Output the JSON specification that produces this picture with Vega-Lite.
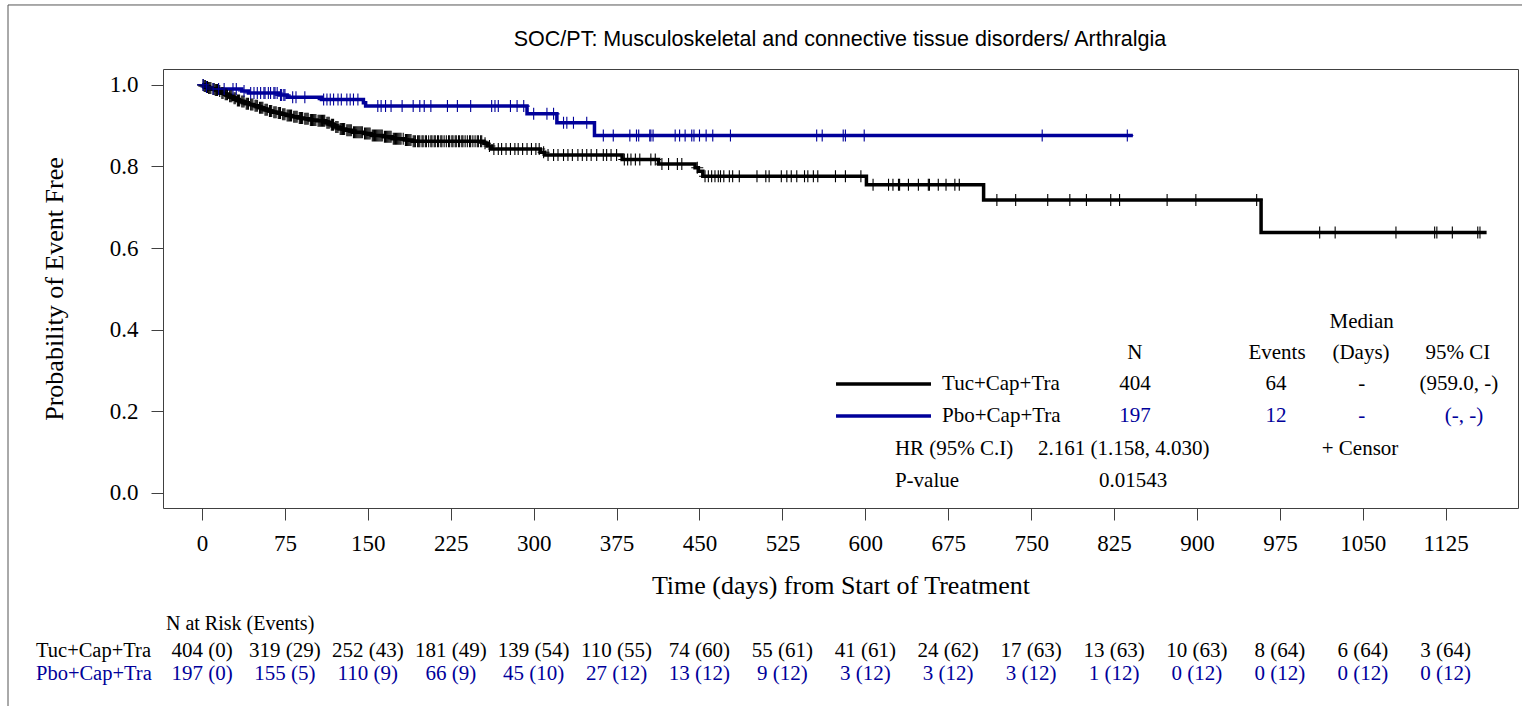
{
"$schema": "https://vega.github.io/schema/vega-lite/v6.json",
"width": 1355,
"height": 439,
"autosize": {"type": "none"},
"padding": {"left": 163, "top": 69, "right": 4, "bottom": 198},
"background": "white",
"config": {
  "view": {"stroke": "#404040", "strokeWidth": 1},
  "text": {"font": "Liberation Serif", "color": "black"},
  "axis": {"labelFont": "Liberation Serif", "titleFont": "Liberation Serif", "labelColor": "black", "titleColor": "black", "titleFontWeight": "normal", "grid": false, "domain": false, "tickColor": "#404040", "tickSize": 12, "labelFontSize": 23, "titleFontSize": 26}
},
"datasets": {
  "curves": [
    {"arm":"Tuc+Cap+Tra","day":0,"surv":1},{"arm":"Tuc+Cap+Tra","day":2,"surv":0.9975},{"arm":"Tuc+Cap+Tra","day":4,"surv":0.995},{"arm":"Tuc+Cap+Tra","day":6,"surv":0.9925},{"arm":"Tuc+Cap+Tra","day":9,"surv":0.99},{"arm":"Tuc+Cap+Tra","day":12,"surv":0.9875},{"arm":"Tuc+Cap+Tra","day":15,"surv":0.985},{"arm":"Tuc+Cap+Tra","day":17,"surv":0.98},{"arm":"Tuc+Cap+Tra","day":20,"surv":0.977},{"arm":"Tuc+Cap+Tra","day":24,"surv":0.972},{"arm":"Tuc+Cap+Tra","day":28,"surv":0.967},{"arm":"Tuc+Cap+Tra","day":31,"surv":0.962},{"arm":"Tuc+Cap+Tra","day":35,"surv":0.959},{"arm":"Tuc+Cap+Tra","day":39,"surv":0.954},{"arm":"Tuc+Cap+Tra","day":43,"surv":0.952},{"arm":"Tuc+Cap+Tra","day":47,"surv":0.949},{"arm":"Tuc+Cap+Tra","day":51,"surv":0.944},{"arm":"Tuc+Cap+Tra","day":56,"surv":0.939},{"arm":"Tuc+Cap+Tra","day":60,"surv":0.936},{"arm":"Tuc+Cap+Tra","day":64,"surv":0.933},{"arm":"Tuc+Cap+Tra","day":68,"surv":0.931},{"arm":"Tuc+Cap+Tra","day":72,"surv":0.928},{"arm":"Tuc+Cap+Tra","day":76,"surv":0.925},{"arm":"Tuc+Cap+Tra","day":82,"surv":0.922},{"arm":"Tuc+Cap+Tra","day":87,"surv":0.919},{"arm":"Tuc+Cap+Tra","day":92,"surv":0.917},{"arm":"Tuc+Cap+Tra","day":97,"surv":0.914},{"arm":"Tuc+Cap+Tra","day":104,"surv":0.912},{"arm":"Tuc+Cap+Tra","day":112,"surv":0.907},{"arm":"Tuc+Cap+Tra","day":116,"surv":0.902},{"arm":"Tuc+Cap+Tra","day":120,"surv":0.897},{"arm":"Tuc+Cap+Tra","day":124,"surv":0.892},{"arm":"Tuc+Cap+Tra","day":130,"surv":0.889},{"arm":"Tuc+Cap+Tra","day":136,"surv":0.884},{"arm":"Tuc+Cap+Tra","day":146,"surv":0.881},{"arm":"Tuc+Cap+Tra","day":153,"surv":0.876},{"arm":"Tuc+Cap+Tra","day":164,"surv":0.873},{"arm":"Tuc+Cap+Tra","day":172,"surv":0.868},{"arm":"Tuc+Cap+Tra","day":183,"surv":0.865},{"arm":"Tuc+Cap+Tra","day":190,"surv":0.862},{"arm":"Tuc+Cap+Tra","day":255,"surv":0.857},{"arm":"Tuc+Cap+Tra","day":258,"surv":0.85},{"arm":"Tuc+Cap+Tra","day":262,"surv":0.843},{"arm":"Tuc+Cap+Tra","day":306,"surv":0.835},{"arm":"Tuc+Cap+Tra","day":310,"surv":0.828},{"arm":"Tuc+Cap+Tra","day":380,"surv":0.817},{"arm":"Tuc+Cap+Tra","day":413,"surv":0.806},{"arm":"Tuc+Cap+Tra","day":446,"surv":0.797},{"arm":"Tuc+Cap+Tra","day":449,"surv":0.788},{"arm":"Tuc+Cap+Tra","day":453,"surv":0.776},{"arm":"Tuc+Cap+Tra","day":601,"surv":0.755},{"arm":"Tuc+Cap+Tra","day":707,"surv":0.718},{"arm":"Tuc+Cap+Tra","day":958,"surv":0.638},{"arm":"Tuc+Cap+Tra","day":1162,"surv":0.638},
    {"arm":"Pbo+Cap+Tra","day":0,"surv":1},{"arm":"Pbo+Cap+Tra","day":2,"surv":0.995},{"arm":"Pbo+Cap+Tra","day":6,"surv":0.99},{"arm":"Pbo+Cap+Tra","day":36,"surv":0.985},{"arm":"Pbo+Cap+Tra","day":42,"surv":0.98},{"arm":"Pbo+Cap+Tra","day":70,"surv":0.975},{"arm":"Pbo+Cap+Tra","day":77,"surv":0.97},{"arm":"Pbo+Cap+Tra","day":108,"surv":0.964},{"arm":"Pbo+Cap+Tra","day":146,"surv":0.956},{"arm":"Pbo+Cap+Tra","day":148,"surv":0.948},{"arm":"Pbo+Cap+Tra","day":294,"surv":0.929},{"arm":"Pbo+Cap+Tra","day":321,"surv":0.907},{"arm":"Pbo+Cap+Tra","day":355,"surv":0.876},{"arm":"Pbo+Cap+Tra","day":842,"surv":0.876}
  ],
  "censors": [
    {"arm":"Tuc+Cap+Tra","day":1,"surv":1},{"arm":"Tuc+Cap+Tra","day":2,"surv":0.9975},{"arm":"Tuc+Cap+Tra","day":3,"surv":0.9975},{"arm":"Tuc+Cap+Tra","day":5,"surv":0.995},{"arm":"Tuc+Cap+Tra","day":6,"surv":0.9925},{"arm":"Tuc+Cap+Tra","day":7,"surv":0.9925},{"arm":"Tuc+Cap+Tra","day":8,"surv":0.9925},{"arm":"Tuc+Cap+Tra","day":10,"surv":0.99},{"arm":"Tuc+Cap+Tra","day":11,"surv":0.99},{"arm":"Tuc+Cap+Tra","day":12,"surv":0.9875},{"arm":"Tuc+Cap+Tra","day":13,"surv":0.9875},{"arm":"Tuc+Cap+Tra","day":14,"surv":0.9875},{"arm":"Tuc+Cap+Tra","day":16,"surv":0.985},{"arm":"Tuc+Cap+Tra","day":18,"surv":0.98},{"arm":"Tuc+Cap+Tra","day":19,"surv":0.98},{"arm":"Tuc+Cap+Tra","day":21,"surv":0.977},{"arm":"Tuc+Cap+Tra","day":22,"surv":0.977},{"arm":"Tuc+Cap+Tra","day":23,"surv":0.977},{"arm":"Tuc+Cap+Tra","day":25,"surv":0.972},{"arm":"Tuc+Cap+Tra","day":26,"surv":0.972},{"arm":"Tuc+Cap+Tra","day":27,"surv":0.972},{"arm":"Tuc+Cap+Tra","day":29,"surv":0.967},{"arm":"Tuc+Cap+Tra","day":30,"surv":0.967},{"arm":"Tuc+Cap+Tra","day":32,"surv":0.962},{"arm":"Tuc+Cap+Tra","day":33,"surv":0.962},{"arm":"Tuc+Cap+Tra","day":34,"surv":0.962},{"arm":"Tuc+Cap+Tra","day":36,"surv":0.959},{"arm":"Tuc+Cap+Tra","day":37,"surv":0.959},{"arm":"Tuc+Cap+Tra","day":38,"surv":0.959},{"arm":"Tuc+Cap+Tra","day":40,"surv":0.954},{"arm":"Tuc+Cap+Tra","day":41,"surv":0.954},{"arm":"Tuc+Cap+Tra","day":42,"surv":0.954},{"arm":"Tuc+Cap+Tra","day":44,"surv":0.952},{"arm":"Tuc+Cap+Tra","day":45,"surv":0.952},{"arm":"Tuc+Cap+Tra","day":46,"surv":0.952},{"arm":"Tuc+Cap+Tra","day":48,"surv":0.949},{"arm":"Tuc+Cap+Tra","day":49,"surv":0.949},{"arm":"Tuc+Cap+Tra","day":50,"surv":0.949},{"arm":"Tuc+Cap+Tra","day":52,"surv":0.944},{"arm":"Tuc+Cap+Tra","day":53,"surv":0.944},{"arm":"Tuc+Cap+Tra","day":54,"surv":0.944},{"arm":"Tuc+Cap+Tra","day":55,"surv":0.944},{"arm":"Tuc+Cap+Tra","day":57,"surv":0.939},{"arm":"Tuc+Cap+Tra","day":58,"surv":0.939},{"arm":"Tuc+Cap+Tra","day":59,"surv":0.939},{"arm":"Tuc+Cap+Tra","day":61,"surv":0.936},{"arm":"Tuc+Cap+Tra","day":62,"surv":0.936},{"arm":"Tuc+Cap+Tra","day":63,"surv":0.936},{"arm":"Tuc+Cap+Tra","day":65,"surv":0.933},{"arm":"Tuc+Cap+Tra","day":66,"surv":0.933},{"arm":"Tuc+Cap+Tra","day":67,"surv":0.933},{"arm":"Tuc+Cap+Tra","day":69,"surv":0.931},{"arm":"Tuc+Cap+Tra","day":70,"surv":0.931},{"arm":"Tuc+Cap+Tra","day":71,"surv":0.931},{"arm":"Tuc+Cap+Tra","day":73,"surv":0.928},{"arm":"Tuc+Cap+Tra","day":74,"surv":0.928},{"arm":"Tuc+Cap+Tra","day":75,"surv":0.928},{"arm":"Tuc+Cap+Tra","day":77,"surv":0.925},{"arm":"Tuc+Cap+Tra","day":78,"surv":0.925},{"arm":"Tuc+Cap+Tra","day":79,"surv":0.925},{"arm":"Tuc+Cap+Tra","day":80,"surv":0.925},{"arm":"Tuc+Cap+Tra","day":81,"surv":0.925},{"arm":"Tuc+Cap+Tra","day":83,"surv":0.922},{"arm":"Tuc+Cap+Tra","day":84,"surv":0.922},{"arm":"Tuc+Cap+Tra","day":85,"surv":0.922},{"arm":"Tuc+Cap+Tra","day":86,"surv":0.922},{"arm":"Tuc+Cap+Tra","day":88,"surv":0.919},{"arm":"Tuc+Cap+Tra","day":89,"surv":0.919},{"arm":"Tuc+Cap+Tra","day":90,"surv":0.919},{"arm":"Tuc+Cap+Tra","day":91,"surv":0.919},{"arm":"Tuc+Cap+Tra","day":93,"surv":0.917},{"arm":"Tuc+Cap+Tra","day":94,"surv":0.917},{"arm":"Tuc+Cap+Tra","day":95,"surv":0.917},{"arm":"Tuc+Cap+Tra","day":96,"surv":0.917},{"arm":"Tuc+Cap+Tra","day":98,"surv":0.914},{"arm":"Tuc+Cap+Tra","day":99,"surv":0.914},{"arm":"Tuc+Cap+Tra","day":100,"surv":0.914},{"arm":"Tuc+Cap+Tra","day":101,"surv":0.914},{"arm":"Tuc+Cap+Tra","day":102,"surv":0.914},{"arm":"Tuc+Cap+Tra","day":103,"surv":0.914},{"arm":"Tuc+Cap+Tra","day":105,"surv":0.912},{"arm":"Tuc+Cap+Tra","day":106,"surv":0.912},{"arm":"Tuc+Cap+Tra","day":107,"surv":0.912},{"arm":"Tuc+Cap+Tra","day":108,"surv":0.912},{"arm":"Tuc+Cap+Tra","day":109,"surv":0.912},{"arm":"Tuc+Cap+Tra","day":110,"surv":0.912},{"arm":"Tuc+Cap+Tra","day":111,"surv":0.912},{"arm":"Tuc+Cap+Tra","day":113,"surv":0.907},{"arm":"Tuc+Cap+Tra","day":114,"surv":0.907},{"arm":"Tuc+Cap+Tra","day":115,"surv":0.907},{"arm":"Tuc+Cap+Tra","day":117,"surv":0.902},{"arm":"Tuc+Cap+Tra","day":118,"surv":0.902},{"arm":"Tuc+Cap+Tra","day":119,"surv":0.902},{"arm":"Tuc+Cap+Tra","day":121,"surv":0.897},{"arm":"Tuc+Cap+Tra","day":122,"surv":0.897},{"arm":"Tuc+Cap+Tra","day":123,"surv":0.897},{"arm":"Tuc+Cap+Tra","day":125,"surv":0.892},{"arm":"Tuc+Cap+Tra","day":126,"surv":0.892},{"arm":"Tuc+Cap+Tra","day":127,"surv":0.892},{"arm":"Tuc+Cap+Tra","day":128,"surv":0.892},{"arm":"Tuc+Cap+Tra","day":129,"surv":0.892},{"arm":"Tuc+Cap+Tra","day":131,"surv":0.889},{"arm":"Tuc+Cap+Tra","day":132,"surv":0.889},{"arm":"Tuc+Cap+Tra","day":133,"surv":0.889},{"arm":"Tuc+Cap+Tra","day":134,"surv":0.889},{"arm":"Tuc+Cap+Tra","day":135,"surv":0.889},{"arm":"Tuc+Cap+Tra","day":137,"surv":0.884},{"arm":"Tuc+Cap+Tra","day":138,"surv":0.884},{"arm":"Tuc+Cap+Tra","day":139,"surv":0.884},{"arm":"Tuc+Cap+Tra","day":140,"surv":0.884},{"arm":"Tuc+Cap+Tra","day":141,"surv":0.884},{"arm":"Tuc+Cap+Tra","day":142,"surv":0.884},{"arm":"Tuc+Cap+Tra","day":143,"surv":0.884},{"arm":"Tuc+Cap+Tra","day":144,"surv":0.884},{"arm":"Tuc+Cap+Tra","day":145,"surv":0.884},{"arm":"Tuc+Cap+Tra","day":147,"surv":0.881},{"arm":"Tuc+Cap+Tra","day":148,"surv":0.881},{"arm":"Tuc+Cap+Tra","day":149,"surv":0.881},{"arm":"Tuc+Cap+Tra","day":150,"surv":0.881},{"arm":"Tuc+Cap+Tra","day":151,"surv":0.881},{"arm":"Tuc+Cap+Tra","day":152,"surv":0.881},{"arm":"Tuc+Cap+Tra","day":154,"surv":0.876},{"arm":"Tuc+Cap+Tra","day":155,"surv":0.876},{"arm":"Tuc+Cap+Tra","day":156,"surv":0.876},{"arm":"Tuc+Cap+Tra","day":157,"surv":0.876},{"arm":"Tuc+Cap+Tra","day":158,"surv":0.876},{"arm":"Tuc+Cap+Tra","day":159,"surv":0.876},{"arm":"Tuc+Cap+Tra","day":160,"surv":0.876},{"arm":"Tuc+Cap+Tra","day":161,"surv":0.876},{"arm":"Tuc+Cap+Tra","day":162,"surv":0.876},{"arm":"Tuc+Cap+Tra","day":163,"surv":0.876},{"arm":"Tuc+Cap+Tra","day":165,"surv":0.873},{"arm":"Tuc+Cap+Tra","day":166,"surv":0.873},{"arm":"Tuc+Cap+Tra","day":167,"surv":0.873},{"arm":"Tuc+Cap+Tra","day":168,"surv":0.873},{"arm":"Tuc+Cap+Tra","day":169,"surv":0.873},{"arm":"Tuc+Cap+Tra","day":170,"surv":0.873},{"arm":"Tuc+Cap+Tra","day":171,"surv":0.873},{"arm":"Tuc+Cap+Tra","day":173,"surv":0.868},{"arm":"Tuc+Cap+Tra","day":174,"surv":0.868},{"arm":"Tuc+Cap+Tra","day":175,"surv":0.868},{"arm":"Tuc+Cap+Tra","day":176,"surv":0.868},{"arm":"Tuc+Cap+Tra","day":177,"surv":0.868},{"arm":"Tuc+Cap+Tra","day":178,"surv":0.868},{"arm":"Tuc+Cap+Tra","day":179,"surv":0.868},{"arm":"Tuc+Cap+Tra","day":180,"surv":0.868},{"arm":"Tuc+Cap+Tra","day":182,"surv":0.868},{"arm":"Tuc+Cap+Tra","day":184,"surv":0.865},{"arm":"Tuc+Cap+Tra","day":185,"surv":0.865},{"arm":"Tuc+Cap+Tra","day":186,"surv":0.865},{"arm":"Tuc+Cap+Tra","day":187,"surv":0.865},{"arm":"Tuc+Cap+Tra","day":188,"surv":0.865},{"arm":"Tuc+Cap+Tra","day":189,"surv":0.865},{"arm":"Tuc+Cap+Tra","day":191,"surv":0.862},{"arm":"Tuc+Cap+Tra","day":192,"surv":0.862},{"arm":"Tuc+Cap+Tra","day":193,"surv":0.862},{"arm":"Tuc+Cap+Tra","day":195,"surv":0.862},{"arm":"Tuc+Cap+Tra","day":196,"surv":0.862},{"arm":"Tuc+Cap+Tra","day":197,"surv":0.862},{"arm":"Tuc+Cap+Tra","day":199,"surv":0.862},{"arm":"Tuc+Cap+Tra","day":200,"surv":0.862},{"arm":"Tuc+Cap+Tra","day":202,"surv":0.862},{"arm":"Tuc+Cap+Tra","day":203,"surv":0.862},{"arm":"Tuc+Cap+Tra","day":205,"surv":0.862},{"arm":"Tuc+Cap+Tra","day":207,"surv":0.862},{"arm":"Tuc+Cap+Tra","day":208,"surv":0.862},{"arm":"Tuc+Cap+Tra","day":210,"surv":0.862},{"arm":"Tuc+Cap+Tra","day":211,"surv":0.862},{"arm":"Tuc+Cap+Tra","day":213,"surv":0.862},{"arm":"Tuc+Cap+Tra","day":214,"surv":0.862},{"arm":"Tuc+Cap+Tra","day":216,"surv":0.862},{"arm":"Tuc+Cap+Tra","day":217,"surv":0.862},{"arm":"Tuc+Cap+Tra","day":219,"surv":0.862},{"arm":"Tuc+Cap+Tra","day":221,"surv":0.862},{"arm":"Tuc+Cap+Tra","day":223,"surv":0.862},{"arm":"Tuc+Cap+Tra","day":224,"surv":0.862},{"arm":"Tuc+Cap+Tra","day":226,"surv":0.862},{"arm":"Tuc+Cap+Tra","day":227,"surv":0.862},{"arm":"Tuc+Cap+Tra","day":229,"surv":0.862},{"arm":"Tuc+Cap+Tra","day":230,"surv":0.862},{"arm":"Tuc+Cap+Tra","day":232,"surv":0.862},{"arm":"Tuc+Cap+Tra","day":233,"surv":0.862},{"arm":"Tuc+Cap+Tra","day":235,"surv":0.862},{"arm":"Tuc+Cap+Tra","day":236,"surv":0.862},{"arm":"Tuc+Cap+Tra","day":238,"surv":0.862},{"arm":"Tuc+Cap+Tra","day":240,"surv":0.862},{"arm":"Tuc+Cap+Tra","day":242,"surv":0.862},{"arm":"Tuc+Cap+Tra","day":243,"surv":0.862},{"arm":"Tuc+Cap+Tra","day":245,"surv":0.862},{"arm":"Tuc+Cap+Tra","day":247,"surv":0.862},{"arm":"Tuc+Cap+Tra","day":249,"surv":0.862},{"arm":"Tuc+Cap+Tra","day":250,"surv":0.862},{"arm":"Tuc+Cap+Tra","day":252,"surv":0.862},{"arm":"Tuc+Cap+Tra","day":253,"surv":0.862},{"arm":"Tuc+Cap+Tra","day":256,"surv":0.857},{"arm":"Tuc+Cap+Tra","day":260,"surv":0.85},{"arm":"Tuc+Cap+Tra","day":264,"surv":0.843},{"arm":"Tuc+Cap+Tra","day":268,"surv":0.843},{"arm":"Tuc+Cap+Tra","day":271,"surv":0.843},{"arm":"Tuc+Cap+Tra","day":275,"surv":0.843},{"arm":"Tuc+Cap+Tra","day":279,"surv":0.843},{"arm":"Tuc+Cap+Tra","day":283,"surv":0.843},{"arm":"Tuc+Cap+Tra","day":286,"surv":0.843},{"arm":"Tuc+Cap+Tra","day":290,"surv":0.843},{"arm":"Tuc+Cap+Tra","day":294,"surv":0.843},{"arm":"Tuc+Cap+Tra","day":298,"surv":0.843},{"arm":"Tuc+Cap+Tra","day":302,"surv":0.843},{"arm":"Tuc+Cap+Tra","day":305,"surv":0.843},{"arm":"Tuc+Cap+Tra","day":309,"surv":0.835},{"arm":"Tuc+Cap+Tra","day":313,"surv":0.828},{"arm":"Tuc+Cap+Tra","day":318,"surv":0.828},{"arm":"Tuc+Cap+Tra","day":322,"surv":0.828},{"arm":"Tuc+Cap+Tra","day":327,"surv":0.828},{"arm":"Tuc+Cap+Tra","day":331,"surv":0.828},{"arm":"Tuc+Cap+Tra","day":335,"surv":0.828},{"arm":"Tuc+Cap+Tra","day":340,"surv":0.828},{"arm":"Tuc+Cap+Tra","day":344,"surv":0.828},{"arm":"Tuc+Cap+Tra","day":348,"surv":0.828},{"arm":"Tuc+Cap+Tra","day":352,"surv":0.828},{"arm":"Tuc+Cap+Tra","day":357,"surv":0.828},{"arm":"Tuc+Cap+Tra","day":363,"surv":0.828},{"arm":"Tuc+Cap+Tra","day":366,"surv":0.828},{"arm":"Tuc+Cap+Tra","day":370,"surv":0.828},{"arm":"Tuc+Cap+Tra","day":375,"surv":0.828},{"arm":"Tuc+Cap+Tra","day":382,"surv":0.817},{"arm":"Tuc+Cap+Tra","day":385,"surv":0.817},{"arm":"Tuc+Cap+Tra","day":388,"surv":0.817},{"arm":"Tuc+Cap+Tra","day":392,"surv":0.817},{"arm":"Tuc+Cap+Tra","day":396,"surv":0.817},{"arm":"Tuc+Cap+Tra","day":406,"surv":0.817},{"arm":"Tuc+Cap+Tra","day":410,"surv":0.817},{"arm":"Tuc+Cap+Tra","day":416,"surv":0.806},{"arm":"Tuc+Cap+Tra","day":422,"surv":0.806},{"arm":"Tuc+Cap+Tra","day":430,"surv":0.806},{"arm":"Tuc+Cap+Tra","day":434,"surv":0.806},{"arm":"Tuc+Cap+Tra","day":448,"surv":0.797},{"arm":"Tuc+Cap+Tra","day":455,"surv":0.776},{"arm":"Tuc+Cap+Tra","day":458,"surv":0.776},{"arm":"Tuc+Cap+Tra","day":461,"surv":0.776},{"arm":"Tuc+Cap+Tra","day":464,"surv":0.776},{"arm":"Tuc+Cap+Tra","day":467,"surv":0.776},{"arm":"Tuc+Cap+Tra","day":469,"surv":0.776},{"arm":"Tuc+Cap+Tra","day":472,"surv":0.776},{"arm":"Tuc+Cap+Tra","day":477,"surv":0.776},{"arm":"Tuc+Cap+Tra","day":480,"surv":0.776},{"arm":"Tuc+Cap+Tra","day":486,"surv":0.776},{"arm":"Tuc+Cap+Tra","day":502,"surv":0.776},{"arm":"Tuc+Cap+Tra","day":510,"surv":0.776},{"arm":"Tuc+Cap+Tra","day":513,"surv":0.776},{"arm":"Tuc+Cap+Tra","day":524,"surv":0.776},{"arm":"Tuc+Cap+Tra","day":529,"surv":0.776},{"arm":"Tuc+Cap+Tra","day":533,"surv":0.776},{"arm":"Tuc+Cap+Tra","day":538,"surv":0.776},{"arm":"Tuc+Cap+Tra","day":545,"surv":0.776},{"arm":"Tuc+Cap+Tra","day":548,"surv":0.776},{"arm":"Tuc+Cap+Tra","day":553,"surv":0.776},{"arm":"Tuc+Cap+Tra","day":557,"surv":0.776},{"arm":"Tuc+Cap+Tra","day":573,"surv":0.776},{"arm":"Tuc+Cap+Tra","day":582,"surv":0.776},{"arm":"Tuc+Cap+Tra","day":596,"surv":0.776},{"arm":"Tuc+Cap+Tra","day":607,"surv":0.755},{"arm":"Tuc+Cap+Tra","day":621,"surv":0.755},{"arm":"Tuc+Cap+Tra","day":625,"surv":0.755},{"arm":"Tuc+Cap+Tra","day":630,"surv":0.755},{"arm":"Tuc+Cap+Tra","day":631,"surv":0.755},{"arm":"Tuc+Cap+Tra","day":639,"surv":0.755},{"arm":"Tuc+Cap+Tra","day":648,"surv":0.755},{"arm":"Tuc+Cap+Tra","day":657,"surv":0.755},{"arm":"Tuc+Cap+Tra","day":658,"surv":0.755},{"arm":"Tuc+Cap+Tra","day":666,"surv":0.755},{"arm":"Tuc+Cap+Tra","day":673,"surv":0.755},{"arm":"Tuc+Cap+Tra","day":681,"surv":0.755},{"arm":"Tuc+Cap+Tra","day":685,"surv":0.755},{"arm":"Tuc+Cap+Tra","day":719,"surv":0.718},{"arm":"Tuc+Cap+Tra","day":736,"surv":0.718},{"arm":"Tuc+Cap+Tra","day":765,"surv":0.718},{"arm":"Tuc+Cap+Tra","day":785,"surv":0.718},{"arm":"Tuc+Cap+Tra","day":800,"surv":0.718},{"arm":"Tuc+Cap+Tra","day":822,"surv":0.718},{"arm":"Tuc+Cap+Tra","day":830,"surv":0.718},{"arm":"Tuc+Cap+Tra","day":873,"surv":0.718},{"arm":"Tuc+Cap+Tra","day":899,"surv":0.718},{"arm":"Tuc+Cap+Tra","day":954,"surv":0.718},{"arm":"Tuc+Cap+Tra","day":1011,"surv":0.638},{"arm":"Tuc+Cap+Tra","day":1025,"surv":0.638},{"arm":"Tuc+Cap+Tra","day":1080,"surv":0.638},{"arm":"Tuc+Cap+Tra","day":1115,"surv":0.638},{"arm":"Tuc+Cap+Tra","day":1117,"surv":0.638},{"arm":"Tuc+Cap+Tra","day":1131,"surv":0.638},{"arm":"Tuc+Cap+Tra","day":1154,"surv":0.638},{"arm":"Tuc+Cap+Tra","day":1156,"surv":0.638},
    {"arm":"Pbo+Cap+Tra","day":1,"surv":1},{"arm":"Pbo+Cap+Tra","day":4,"surv":0.995},{"arm":"Pbo+Cap+Tra","day":10,"surv":0.99},{"arm":"Pbo+Cap+Tra","day":15,"surv":0.99},{"arm":"Pbo+Cap+Tra","day":20,"surv":0.99},{"arm":"Pbo+Cap+Tra","day":28,"surv":0.99},{"arm":"Pbo+Cap+Tra","day":31,"surv":0.99},{"arm":"Pbo+Cap+Tra","day":38,"surv":0.985},{"arm":"Pbo+Cap+Tra","day":44,"surv":0.98},{"arm":"Pbo+Cap+Tra","day":47,"surv":0.98},{"arm":"Pbo+Cap+Tra","day":50,"surv":0.98},{"arm":"Pbo+Cap+Tra","day":53,"surv":0.98},{"arm":"Pbo+Cap+Tra","day":56,"surv":0.98},{"arm":"Pbo+Cap+Tra","day":57,"surv":0.98},{"arm":"Pbo+Cap+Tra","day":60,"surv":0.98},{"arm":"Pbo+Cap+Tra","day":62,"surv":0.98},{"arm":"Pbo+Cap+Tra","day":65,"surv":0.98},{"arm":"Pbo+Cap+Tra","day":66,"surv":0.98},{"arm":"Pbo+Cap+Tra","day":68,"surv":0.98},{"arm":"Pbo+Cap+Tra","day":71,"surv":0.975},{"arm":"Pbo+Cap+Tra","day":72,"surv":0.975},{"arm":"Pbo+Cap+Tra","day":74,"surv":0.975},{"arm":"Pbo+Cap+Tra","day":75,"surv":0.975},{"arm":"Pbo+Cap+Tra","day":82,"surv":0.97},{"arm":"Pbo+Cap+Tra","day":85,"surv":0.97},{"arm":"Pbo+Cap+Tra","day":93,"surv":0.97},{"arm":"Pbo+Cap+Tra","day":110,"surv":0.964},{"arm":"Pbo+Cap+Tra","day":113,"surv":0.964},{"arm":"Pbo+Cap+Tra","day":116,"surv":0.964},{"arm":"Pbo+Cap+Tra","day":119,"surv":0.964},{"arm":"Pbo+Cap+Tra","day":123,"surv":0.964},{"arm":"Pbo+Cap+Tra","day":126,"surv":0.964},{"arm":"Pbo+Cap+Tra","day":131,"surv":0.964},{"arm":"Pbo+Cap+Tra","day":134,"surv":0.964},{"arm":"Pbo+Cap+Tra","day":137,"surv":0.964},{"arm":"Pbo+Cap+Tra","day":141,"surv":0.964},{"arm":"Pbo+Cap+Tra","day":159,"surv":0.948},{"arm":"Pbo+Cap+Tra","day":162,"surv":0.948},{"arm":"Pbo+Cap+Tra","day":166,"surv":0.948},{"arm":"Pbo+Cap+Tra","day":171,"surv":0.948},{"arm":"Pbo+Cap+Tra","day":181,"surv":0.948},{"arm":"Pbo+Cap+Tra","day":191,"surv":0.948},{"arm":"Pbo+Cap+Tra","day":197,"surv":0.948},{"arm":"Pbo+Cap+Tra","day":201,"surv":0.948},{"arm":"Pbo+Cap+Tra","day":207,"surv":0.948},{"arm":"Pbo+Cap+Tra","day":222,"surv":0.948},{"arm":"Pbo+Cap+Tra","day":231,"surv":0.948},{"arm":"Pbo+Cap+Tra","day":243,"surv":0.948},{"arm":"Pbo+Cap+Tra","day":262,"surv":0.948},{"arm":"Pbo+Cap+Tra","day":265,"surv":0.948},{"arm":"Pbo+Cap+Tra","day":268,"surv":0.948},{"arm":"Pbo+Cap+Tra","day":279,"surv":0.948},{"arm":"Pbo+Cap+Tra","day":285,"surv":0.948},{"arm":"Pbo+Cap+Tra","day":291,"surv":0.948},{"arm":"Pbo+Cap+Tra","day":300,"surv":0.929},{"arm":"Pbo+Cap+Tra","day":312,"surv":0.929},{"arm":"Pbo+Cap+Tra","day":318,"surv":0.929},{"arm":"Pbo+Cap+Tra","day":327,"surv":0.907},{"arm":"Pbo+Cap+Tra","day":330,"surv":0.907},{"arm":"Pbo+Cap+Tra","day":336,"surv":0.907},{"arm":"Pbo+Cap+Tra","day":348,"surv":0.907},{"arm":"Pbo+Cap+Tra","day":363,"surv":0.876},{"arm":"Pbo+Cap+Tra","day":372,"surv":0.876},{"arm":"Pbo+Cap+Tra","day":387,"surv":0.876},{"arm":"Pbo+Cap+Tra","day":393,"surv":0.876},{"arm":"Pbo+Cap+Tra","day":395,"surv":0.876},{"arm":"Pbo+Cap+Tra","day":405,"surv":0.876},{"arm":"Pbo+Cap+Tra","day":406,"surv":0.876},{"arm":"Pbo+Cap+Tra","day":408,"surv":0.876},{"arm":"Pbo+Cap+Tra","day":428,"surv":0.876},{"arm":"Pbo+Cap+Tra","day":432,"surv":0.876},{"arm":"Pbo+Cap+Tra","day":437,"surv":0.876},{"arm":"Pbo+Cap+Tra","day":443,"surv":0.876},{"arm":"Pbo+Cap+Tra","day":445,"surv":0.876},{"arm":"Pbo+Cap+Tra","day":450,"surv":0.876},{"arm":"Pbo+Cap+Tra","day":456,"surv":0.876},{"arm":"Pbo+Cap+Tra","day":462,"surv":0.876},{"arm":"Pbo+Cap+Tra","day":478,"surv":0.876},{"arm":"Pbo+Cap+Tra","day":556,"surv":0.876},{"arm":"Pbo+Cap+Tra","day":561,"surv":0.876},{"arm":"Pbo+Cap+Tra","day":580,"surv":0.876},{"arm":"Pbo+Cap+Tra","day":582,"surv":0.876},{"arm":"Pbo+Cap+Tra","day":599,"surv":0.876},{"arm":"Pbo+Cap+Tra","day":760,"surv":0.876},{"arm":"Pbo+Cap+Tra","day":837,"surv":0.876}
  ],
  "risk": [
    {"arm":"Tuc+Cap+Tra","day":0,"label":"404 (0)"},{"arm":"Tuc+Cap+Tra","day":75,"label":"319 (29)"},{"arm":"Tuc+Cap+Tra","day":150,"label":"252 (43)"},{"arm":"Tuc+Cap+Tra","day":225,"label":"181 (49)"},{"arm":"Tuc+Cap+Tra","day":300,"label":"139 (54)"},{"arm":"Tuc+Cap+Tra","day":375,"label":"110 (55)"},{"arm":"Tuc+Cap+Tra","day":450,"label":"74 (60)"},{"arm":"Tuc+Cap+Tra","day":525,"label":"55 (61)"},{"arm":"Tuc+Cap+Tra","day":600,"label":"41 (61)"},{"arm":"Tuc+Cap+Tra","day":675,"label":"24 (62)"},{"arm":"Tuc+Cap+Tra","day":750,"label":"17 (63)"},{"arm":"Tuc+Cap+Tra","day":825,"label":"13 (63)"},{"arm":"Tuc+Cap+Tra","day":900,"label":"10 (63)"},{"arm":"Tuc+Cap+Tra","day":975,"label":"8 (64)"},{"arm":"Tuc+Cap+Tra","day":1050,"label":"6 (64)"},{"arm":"Tuc+Cap+Tra","day":1125,"label":"3 (64)"},
    {"arm":"Pbo+Cap+Tra","day":0,"label":"197 (0)"},{"arm":"Pbo+Cap+Tra","day":75,"label":"155 (5)"},{"arm":"Pbo+Cap+Tra","day":150,"label":"110 (9)"},{"arm":"Pbo+Cap+Tra","day":225,"label":"66 (9)"},{"arm":"Pbo+Cap+Tra","day":300,"label":"45 (10)"},{"arm":"Pbo+Cap+Tra","day":375,"label":"27 (12)"},{"arm":"Pbo+Cap+Tra","day":450,"label":"13 (12)"},{"arm":"Pbo+Cap+Tra","day":525,"label":"9 (12)"},{"arm":"Pbo+Cap+Tra","day":600,"label":"3 (12)"},{"arm":"Pbo+Cap+Tra","day":675,"label":"3 (12)"},{"arm":"Pbo+Cap+Tra","day":750,"label":"3 (12)"},{"arm":"Pbo+Cap+Tra","day":825,"label":"1 (12)"},{"arm":"Pbo+Cap+Tra","day":900,"label":"0 (12)"},{"arm":"Pbo+Cap+Tra","day":975,"label":"0 (12)"},{"arm":"Pbo+Cap+Tra","day":1050,"label":"0 (12)"},{"arm":"Pbo+Cap+Tra","day":1125,"label":"0 (12)"}
  ],
  "summary": [
    {"arm":"Tuc+Cap+Tra","n":404,"events":64,"median":"-","ci":"(959.0, -)"},
    {"arm":"Pbo+Cap+Tra","n":197,"events":12,"median":"-","ci":"(-, -)"}
  ],
  "stats": [{"hr":"2.161 (1.158, 4.030)","p":"0.01543"}]
},
"layer": [
  {"data": {"values": [{}]}, "mark": {"type": "rect", "fill": null, "filled": false, "stroke": "#555555", "strokeWidth": 1},
   "encoding": {"x": {"datum": -175.5, "type": "quantitative"}, "x2": {"datum": 1265}, "y": {"datum": 1.196, "type": "quantitative"}, "y2": {"datum": -0.656}}},
  {"data": {"values": [{}]}, "mark": {"type": "text", "font": "Liberation Sans", "fontSize": 21.5, "align": "center", "baseline": "middle", "text": "SOC/PT: Musculoskeletal and connective tissue disorders/ Arthralgia"},
   "encoding": {"x": {"datum": 577.1, "type": "quantitative"}, "y": {"datum": 1.1104, "type": "quantitative"}}},
  {"data": {"name": "curves"}, "mark": {"type": "line", "interpolate": "step-after", "strokeWidth": 3.5},
   "encoding": {
     "x": {"field": "day", "type": "quantitative", "scale": {"domain": [-35.3, 1190.4], "nice": false, "zero": false},
           "axis": {"values": [0,75,150,225,300,375,450,525,600,675,750,825,900,975,1050,1125], "format": "d", "labelFont": "Liberation Serif", "titleFont": "Liberation Serif", "title": "Time (days) from Start of Treatment", "labelPadding": 12, "titlePadding": 17}},
     "y": {"field": "surv", "type": "quantitative", "scale": {"domain": [-0.0375, 1.039], "nice": false, "zero": false},
           "axis": {"values": [0,0.2,0.4,0.6,0.8,1], "format": ".1f", "labelFont": "Liberation Serif", "titleFont": "Liberation Serif", "title": "Probability of Event Free", "labelPadding": 13, "titlePadding": 42}},
     "color": {"field": "arm", "type": "nominal", "scale": {"domain": ["Tuc+Cap+Tra","Pbo+Cap+Tra"], "range": ["#000000","#00009A"]}, "legend": null},
     "detail": {"field": "arm"}
   }},
  {"data": {"name": "censors"}, "mark": {"type": "point", "shape": "M-1,0L1,0M0,-1L0,1", "filled": false, "size": 144, "strokeWidth": 1.1, "opacity": 1},
   "encoding": {"x": {"field": "day", "type": "quantitative"}, "y": {"field": "surv", "type": "quantitative"}, "color": {"field": "arm", "type": "nominal", "legend": null}}},
  {"data": {"values": [{}]}, "mark": {"type": "text", "fontSize": 21, "align": "center", "baseline": "middle", "text": "Median"},
   "encoding": {"x": {"datum": 1049, "type": "quantitative"}, "y": {"datum": 0.4187, "type": "quantitative"}}},
  {"data": {"values": [{}]}, "mark": {"type": "text", "fontSize": 21, "align": "center", "baseline": "middle", "text": "N"},
   "encoding": {"x": {"datum": 843.9, "type": "quantitative"}, "y": {"datum": 0.3428, "type": "quantitative"}}},
  {"data": {"values": [{}]}, "mark": {"type": "text", "fontSize": 21, "align": "center", "baseline": "middle", "text": "Events"},
   "encoding": {"x": {"datum": 972.4, "type": "quantitative"}, "y": {"datum": 0.3428, "type": "quantitative"}}},
  {"data": {"values": [{}]}, "mark": {"type": "text", "fontSize": 21, "align": "center", "baseline": "middle", "text": "(Days)"},
   "encoding": {"x": {"datum": 1048.4, "type": "quantitative"}, "y": {"datum": 0.3428, "type": "quantitative"}}},
  {"data": {"values": [{}]}, "mark": {"type": "text", "fontSize": 21, "align": "center", "baseline": "middle", "text": "95% CI"},
   "encoding": {"x": {"datum": 1136.1, "type": "quantitative"}, "y": {"datum": 0.3428, "type": "quantitative"}}},
  {"data": {"name": "summary"}, "transform": [{"filter": "datum.arm === 'Tuc+Cap+Tra'"}], "mark": {"type": "rule", "strokeWidth": 3.5},
   "encoding": {"x": {"datum": 573.5, "type": "quantitative"}, "x2": {"datum": 659.4}, "y": {"datum": 0.2666, "type": "quantitative"}, "color": {"field": "arm", "type": "nominal", "legend": null}}},
  {"data": {"name": "summary"}, "transform": [{"filter": "datum.arm === 'Pbo+Cap+Tra'"}], "mark": {"type": "rule", "strokeWidth": 3.5},
   "encoding": {"x": {"datum": 573.5, "type": "quantitative"}, "x2": {"datum": 659.4}, "y": {"datum": 0.1882, "type": "quantitative"}, "color": {"field": "arm", "type": "nominal", "legend": null}}},
  {"data": {"name": "summary"}, "transform": [{"filter": "datum.arm === 'Tuc+Cap+Tra'"}], "mark": {"type": "text", "fontSize": 21, "align": "left", "baseline": "middle", "color": "black"},
   "encoding": {"x": {"datum": 669.4, "type": "quantitative"}, "y": {"datum": 0.2666, "type": "quantitative"}, "text": {"field": "arm"}}},
  {"data": {"name": "summary"}, "transform": [{"filter": "datum.arm === 'Pbo+Cap+Tra'"}], "mark": {"type": "text", "fontSize": 21, "align": "left", "baseline": "middle", "color": "black"},
   "encoding": {"x": {"datum": 669.4, "type": "quantitative"}, "y": {"datum": 0.1882, "type": "quantitative"}, "text": {"field": "arm"}}},
  {"data": {"name": "summary"}, "transform": [{"filter": "datum.arm === 'Tuc+Cap+Tra'"}], "mark": {"type": "text", "fontSize": 21, "align": "center", "baseline": "middle"},
   "encoding": {"x": {"datum": 843.9, "type": "quantitative"}, "y": {"datum": 0.2666, "type": "quantitative"}, "text": {"field": "n"}, "color": {"field": "arm", "type": "nominal", "legend": null}}},
  {"data": {"name": "summary"}, "transform": [{"filter": "datum.arm === 'Tuc+Cap+Tra'"}], "mark": {"type": "text", "fontSize": 21, "align": "center", "baseline": "middle"},
   "encoding": {"x": {"datum": 971.5, "type": "quantitative"}, "y": {"datum": 0.2666, "type": "quantitative"}, "text": {"field": "events"}, "color": {"field": "arm", "type": "nominal", "legend": null}}},
  {"data": {"name": "summary"}, "transform": [{"filter": "datum.arm === 'Tuc+Cap+Tra'"}], "mark": {"type": "text", "fontSize": 21, "align": "center", "baseline": "middle"},
   "encoding": {"x": {"datum": 1049, "type": "quantitative"}, "y": {"datum": 0.2666, "type": "quantitative"}, "text": {"field": "median"}, "color": {"field": "arm", "type": "nominal", "legend": null}}},
  {"data": {"name": "summary"}, "transform": [{"filter": "datum.arm === 'Tuc+Cap+Tra'"}], "mark": {"type": "text", "fontSize": 21, "align": "center", "baseline": "middle"},
   "encoding": {"x": {"datum": 1137, "type": "quantitative"}, "y": {"datum": 0.2666, "type": "quantitative"}, "text": {"field": "ci"}, "color": {"field": "arm", "type": "nominal", "legend": null}}},
  {"data": {"name": "summary"}, "transform": [{"filter": "datum.arm === 'Pbo+Cap+Tra'"}], "mark": {"type": "text", "fontSize": 21, "align": "center", "baseline": "middle"},
   "encoding": {"x": {"datum": 843.9, "type": "quantitative"}, "y": {"datum": 0.1882, "type": "quantitative"}, "text": {"field": "n"}, "color": {"field": "arm", "type": "nominal", "legend": null}}},
  {"data": {"name": "summary"}, "transform": [{"filter": "datum.arm === 'Pbo+Cap+Tra'"}], "mark": {"type": "text", "fontSize": 21, "align": "center", "baseline": "middle"},
   "encoding": {"x": {"datum": 971.5, "type": "quantitative"}, "y": {"datum": 0.1882, "type": "quantitative"}, "text": {"field": "events"}, "color": {"field": "arm", "type": "nominal", "legend": null}}},
  {"data": {"name": "summary"}, "transform": [{"filter": "datum.arm === 'Pbo+Cap+Tra'"}], "mark": {"type": "text", "fontSize": 21, "align": "center", "baseline": "middle"},
   "encoding": {"x": {"datum": 1049, "type": "quantitative"}, "y": {"datum": 0.1882, "type": "quantitative"}, "text": {"field": "median"}, "color": {"field": "arm", "type": "nominal", "legend": null}}},
  {"data": {"name": "summary"}, "transform": [{"filter": "datum.arm === 'Pbo+Cap+Tra'"}], "mark": {"type": "text", "fontSize": 21, "align": "center", "baseline": "middle"},
   "encoding": {"x": {"datum": 1141.6, "type": "quantitative"}, "y": {"datum": 0.1882, "type": "quantitative"}, "text": {"field": "ci"}, "color": {"field": "arm", "type": "nominal", "legend": null}}},
  {"data": {"values": [{}]}, "mark": {"type": "text", "fontSize": 21, "align": "left", "baseline": "middle", "text": "HR (95% C.I)"},
   "encoding": {"x": {"datum": 626.8, "type": "quantitative"}, "y": {"datum": 0.1072, "type": "quantitative"}}},
  {"data": {"name": "stats"}, "mark": {"type": "text", "fontSize": 21, "align": "left", "baseline": "middle"},
   "encoding": {"x": {"datum": 756.2, "type": "quantitative"}, "y": {"datum": 0.1072, "type": "quantitative"}, "text": {"field": "hr"}}},
  {"data": {"values": [{}]}, "mark": {"type": "text", "fontSize": 21, "align": "center", "baseline": "middle", "text": "+ Censor"},
   "encoding": {"x": {"datum": 1047.5, "type": "quantitative"}, "y": {"datum": 0.1072, "type": "quantitative"}}},
  {"data": {"values": [{}]}, "mark": {"type": "text", "fontSize": 21, "align": "left", "baseline": "middle", "text": "P-value"},
   "encoding": {"x": {"datum": 626.8, "type": "quantitative"}, "y": {"datum": 0.0287, "type": "quantitative"}}},
  {"data": {"name": "stats"}, "mark": {"type": "text", "fontSize": 21, "align": "center", "baseline": "middle"},
   "encoding": {"x": {"datum": 842.2, "type": "quantitative"}, "y": {"datum": 0.0287, "type": "quantitative"}, "text": {"field": "p"}}},
  {"data": {"values": [{}]}, "mark": {"type": "text", "fontSize": 20, "align": "left", "baseline": "middle", "text": "N at Risk (Events)"},
   "encoding": {"x": {"datum": -32.6, "type": "quantitative"}, "y": {"datum": -0.322, "type": "quantitative"}}},
  {"data": {"name": "summary"}, "transform": [{"filter": "datum.arm === 'Tuc+Cap+Tra'"}], "mark": {"type": "text", "fontSize": 20.5, "align": "left", "baseline": "middle"},
   "encoding": {"x": {"datum": -150.2, "type": "quantitative"}, "y": {"datum": -0.388, "type": "quantitative"}, "text": {"field": "arm"}, "color": {"field": "arm", "type": "nominal", "legend": null}}},
  {"data": {"name": "summary"}, "transform": [{"filter": "datum.arm === 'Pbo+Cap+Tra'"}], "mark": {"type": "text", "fontSize": 20.5, "align": "left", "baseline": "middle"},
   "encoding": {"x": {"datum": -150.2, "type": "quantitative"}, "y": {"datum": -0.445, "type": "quantitative"}, "text": {"field": "arm"}, "color": {"field": "arm", "type": "nominal", "legend": null}}},
  {"data": {"name": "risk"}, "transform": [{"filter": "datum.arm === 'Tuc+Cap+Tra'"}], "mark": {"type": "text", "fontSize": 21, "align": "center", "baseline": "middle"},
   "encoding": {"x": {"field": "day", "type": "quantitative"}, "y": {"datum": -0.388, "type": "quantitative"}, "text": {"field": "label"}, "color": {"field": "arm", "type": "nominal", "legend": null}}},
  {"data": {"name": "risk"}, "transform": [{"filter": "datum.arm === 'Pbo+Cap+Tra'"}], "mark": {"type": "text", "fontSize": 21, "align": "center", "baseline": "middle"},
   "encoding": {"x": {"field": "day", "type": "quantitative"}, "y": {"datum": -0.445, "type": "quantitative"}, "text": {"field": "label"}, "color": {"field": "arm", "type": "nominal", "legend": null}}}
]
}
